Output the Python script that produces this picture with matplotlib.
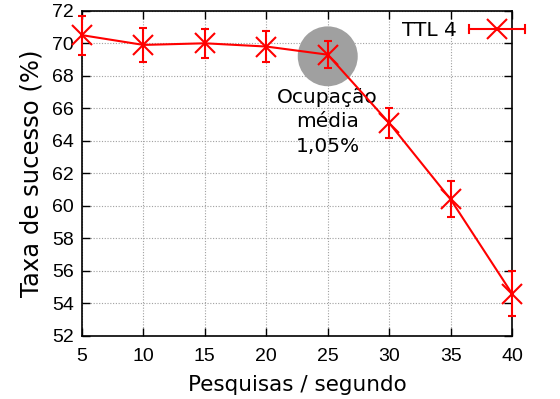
import matplotlib
matplotlib.use("Agg")
import matplotlib.pyplot as plt
from matplotlib.patches import Ellipse
from matplotlib.lines import Line2D
from matplotlib.legend_handler import HandlerBase

# Search rate (queries per second) vs. success rate for TTL 4
rates = [5, 10, 15, 20, 25, 30, 35, 40]
success = [70.5, 69.9, 70.0, 69.8, 69.3, 65.1, 60.4, 54.6]
errors = [1.2, 1.05, 0.9, 0.95, 0.85, 0.95, 1.1, 1.4]
x_ticks = [5, 10, 15, 20, 25, 30, 35, 40]
y_ticks = [52, 54, 56, 58, 60, 62, 64, 66, 68, 70, 72]
series_label = "TTL 4"
note_text = "Ocupação\nmédia\n1,05%"
note_x, note_y = 25, 69.2

RED = '#ff0000'
plt.rcParams['font.family'] = ['Liberation Sans', 'DejaVu Sans']


class ErrorKeyHandler(HandlerBase):
    """Legend key: horizontal line with end ticks and a cross in the middle."""

    def create_artists(self, legend, orig_handle, xdescent, ydescent,
                       width, height, fontsize, trans):
        y = height / 2 - ydescent
        x0, x1 = -xdescent, width - xdescent
        cap = 3.0
        arts = [
            Line2D([x0, x1], [y, y], color=RED, lw=1.5),
            Line2D([x0, x0], [y - cap, y + cap], color=RED, lw=1.5),
            Line2D([x1, x1], [y - cap, y + cap], color=RED, lw=1.5),
            Line2D([(x0 + x1) / 2], [y], color=RED, marker='x',
                   markersize=14, markeredgewidth=1.5, linestyle='none'),
        ]
        for a in arts:
            a.set_transform(trans)
        return arts


fig = plt.figure(figsize=(5.6, 3.99), dpi=100)
ax = fig.add_axes([0.1464, 0.158, 0.768, 0.815])

ax.set_xlim(5, 40)
ax.set_ylim(52, 72)
ax.set_xticks(x_ticks)
ax.set_yticks(y_ticks)
ax.grid(True, color='#a0a0a0', linestyle=(0, (1, 1.5)), linewidth=0.8)
ax.set_axisbelow(True)

# Shaded circle marking the average occupation region (circle in pixel space)
ax.add_patch(Ellipse((note_x, note_y), width=60 / 12.29, height=60 / 16.3,
                     facecolor='#a0a0a0', edgecolor='none', zorder=2))
ax.text(note_x, 67.28, note_text, ha='center', va='top', fontsize=14.5,
        family='DejaVu Sans', linespacing=1.38, zorder=3)

line = ax.errorbar(rates, success, yerr=errors, color=RED, marker='x',
                   markersize=14, markeredgewidth=1.5, linewidth=1.5,
                   elinewidth=1.5, capsize=3, capthick=1.5,
                   zorder=4, clip_on=False)

ax.legend([line], [series_label], handler_map={type(line): ErrorKeyHandler()},
          loc='upper right', frameon=False,
          prop={'family': 'DejaVu Sans', 'size': 14.5},
          handlelength=2.8, borderaxespad=0.0, borderpad=0.0,
          handletextpad=0.6, markerfirst=False,
          bbox_to_anchor=(1.03, 0.968))

ax.tick_params(direction='in', top=True, right=True, length=6, width=1,
               labelsize=14, pad=6, colors='black')
ax.tick_params(axis='x', pad=9)
for s in ax.spines.values():
    s.set_linewidth(1.2)

ax.set_xlabel("Pesquisas / segundo", fontsize=15.5, family='DejaVu Sans',
              labelpad=7)
ax.set_ylabel("Taxa de sucesso (%)", fontsize=17.5, family='DejaVu Sans',
              labelpad=6)

fig.savefig("out.png", dpi=100)
